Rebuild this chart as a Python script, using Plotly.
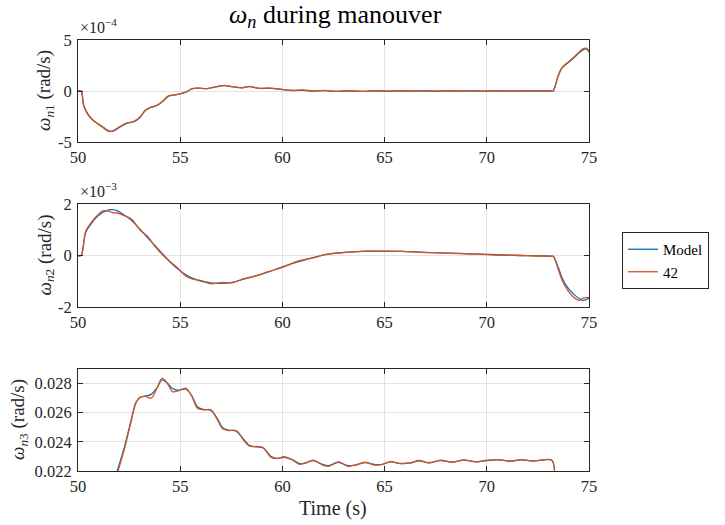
import plotly.graph_objects as go

# ---- omega_n1 (rad/s) ----
t1 = [50.0, 50.15, 50.28, 50.47, 50.75, 51.13, 51.5, 51.7, 52.08, 52.36, 52.74, 53.02, 53.3,
      53.58, 53.87, 54.15, 54.43, 54.72, 55.0, 55.28, 55.57, 55.85, 56.32, 56.79, 57.17, 57.55,
      58.02, 58.4, 58.87, 59.43, 60.0, 60.47, 61.04, 61.5, 62.08, 62.64, 63.2, 63.96, 64.6, 65.2,
      65.8, 66.4, 67.0, 67.6, 68.2, 68.8, 69.4, 70.0, 70.6, 71.2, 71.8, 72.4, 73.0, 73.18, 73.25,
      73.49, 73.68, 73.96, 74.25, 74.53, 74.72, 74.87, 75.0]
w1_model = [0, 0, -1.45e-4, -2.26e-4, -2.9e-4, -3.4e-4, -3.9e-4, -3.95e-4, -3.5e-4, -3.2e-4,
            -3.0e-4, -2.62e-4, -1.9e-4, -1.6e-4, -1.42e-4, -1.0e-4, -0.5e-4, -0.4e-4, -0.28e-4,
            -0.12e-4, 0.2e-4, 0.28e-4, 0.24e-4, 0.42e-4, 0.52e-4, 0.42e-4, 0.32e-4, 0.42e-4,
            0.25e-4, 0.26e-4, 0.14e-4, 0.05e-4, 0.07e-4, -0.02e-4, 0.03e-4, -0.04e-4, 0.0,
            -0.04e-4, 0.0, -0.03e-4, 0.0, -0.02e-4, 0.0, -0.02e-4, 0.0, -0.02e-4, 0.0, -0.01e-4,
            0.0, -0.01e-4, 0.0, 0.0, 0.0, 0.0, 0.0, 1.45e-4, 2.26e-4, 2.74e-4, 3.23e-4, 3.77e-4,
            4.05e-4, 4.12e-4, 3.8e-4]
w1_42 = [0, 0, -1.4e-4, -2.2e-4, -2.9e-4, -3.45e-4, -3.97e-4, -3.9e-4, -3.45e-4, -3.15e-4,
         -2.97e-4, -2.58e-4, -1.87e-4, -1.58e-4, -1.39e-4, -0.97e-4, -0.48e-4, -0.39e-4,
         -0.26e-4, -0.1e-4, 0.23e-4, 0.29e-4, 0.23e-4, 0.42e-4, 0.55e-4, 0.42e-4, 0.32e-4,
         0.45e-4, 0.26e-4, 0.29e-4, 0.16e-4, 0.06e-4, 0.1e-4, 0.0, 0.06e-4, -0.03e-4, 0.03e-4,
         -0.03e-4, 0.03e-4, 0.0, 0.03e-4, 0.0, 0.03e-4, 0.0, 0.03e-4, 0.0, 0.02e-4, 0.0,
         0.02e-4, 0.0, 0.01e-4, 0.01e-4, 0.0, 0.0, 0.0, 1.5e-4, 2.3e-4, 2.8e-4, 3.3e-4, 3.85e-4,
         4.15e-4, 4.2e-4, 3.9e-4]

# ---- omega_n2 (rad/s) ----
t2 = [50.0, 50.15, 50.38, 50.66, 50.94, 51.23, 51.5, 51.7, 51.9, 52.26, 52.64, 53.02, 53.4,
      53.77, 54.15, 54.53, 54.9, 55.28, 55.66, 56.04, 56.5, 56.98, 57.55, 58.11, 58.68, 59.25,
      60.0, 60.75, 61.5, 62.26, 63.02, 63.96, 64.9, 65.85, 66.8, 67.74, 68.68, 69.62, 70.57,
      71.5, 72.45, 73.0, 73.18, 73.25, 73.5, 73.68, 73.96, 74.25, 74.53, 74.72, 75.0]
w2_model = [0, 0, 0.9e-3, 1.25e-3, 1.51e-3, 1.68e-3, 1.77e-3, 1.78e-3, 1.74e-3, 1.57e-3,
            1.35e-3, 1.03e-3, 0.7e-3, 0.38e-3, 0.05e-3, -0.27e-3, -0.53e-3, -0.75e-3, -0.9e-3,
            -1.0e-3, -1.06e-3, -1.08e-3, -1.04e-3, -0.92e-3, -0.79e-3, -0.66e-3, -0.44e-3,
            -0.25e-3, -0.08e-3, 0.05e-3, 0.12e-3, 0.16e-3, 0.17e-3, 0.16e-3, 0.13e-3, 0.1e-3,
            0.08e-3, 0.05e-3, 0.03e-3, 0.0, -0.01e-3, -0.02e-3, -0.03e-3, -0.03e-3, -0.47e-3,
            -0.86e-3, -1.25e-3, -1.5e-3, -1.68e-3, -1.74e-3, -1.66e-3]
w2_42 = [0, 0, 0.95e-3, 1.3e-3, 1.55e-3, 1.74e-3, 1.72e-3, 1.66e-3, 1.65e-3, 1.55e-3, 1.4e-3,
         1.0e-3, 0.75e-3, 0.35e-3, 0.02e-3, -0.25e-3, -0.5e-3, -0.8e-3, -0.93e-3, -0.98e-3,
         -1.1e-3, -1.05e-3, -1.06e-3, -0.9e-3, -0.8e-3, -0.64e-3, -0.46e-3, -0.22e-3, -0.09e-3,
         0.06e-3, 0.11e-3, 0.17e-3, 0.17e-3, 0.16e-3, 0.12e-3, 0.1e-3, 0.07e-3, 0.05e-3,
         0.02e-3, 0.01e-3, -0.02e-3, -0.02e-3, -0.03e-3, -0.03e-3, -0.55e-3, -0.95e-3,
         -1.35e-3, -1.62e-3, -1.74e-3, -1.65e-3, -1.63e-3]

# ---- omega_n3 (rad/s) ----
t3 = [50.0, 50.2, 51.0, 51.92, 52.26, 52.55, 52.83, 53.02, 53.3, 53.58, 53.87, 54.11, 54.34,
      54.62, 54.9, 55.28, 55.57, 55.85, 56.13, 56.5, 56.79, 57.08, 57.36, 57.74, 58.11, 58.4,
      58.77, 59.06, 59.43, 59.72, 60.1, 60.47, 60.85, 61.13, 61.5, 61.98, 62.26, 62.74, 63.2,
      63.58, 64.06, 64.53, 64.9, 65.28, 65.75, 66.23, 66.7, 67.17, 67.74, 68.3, 68.87, 69.43,
      70.0, 70.57, 71.13, 71.7, 72.26, 72.83, 73.2, 73.25, 75.0]
w3_model = [0, 0, 0.0175, 0.0220, 0.02359, 0.0252, 0.02669, 0.02703, 0.02715, 0.02726,
            0.02772, 0.02825, 0.02807, 0.02766, 0.02754, 0.02761, 0.02715, 0.02639, 0.02623,
            0.02616, 0.02566, 0.02497, 0.02480, 0.02474, 0.02416, 0.02375, 0.02366, 0.02359,
            0.02301, 0.02287, 0.02294, 0.02278, 0.02251, 0.02255, 0.02271, 0.02244, 0.02237,
            0.0226, 0.02237, 0.02241, 0.02257, 0.02244, 0.02246, 0.02262, 0.02253, 0.02255,
            0.02269, 0.02257, 0.02271, 0.02262, 0.02274, 0.02264, 0.02271, 0.02276, 0.02269,
            0.02276, 0.02269, 0.02276, 0.02271, 0.0, 0.0]
w3_42 = [0, 0, 0.0170, 0.0218, 0.02345, 0.0251, 0.02665, 0.02705, 0.02712, 0.0270, 0.0277,
         0.02835, 0.0281, 0.02745, 0.0275, 0.02768, 0.02712, 0.0263, 0.0262, 0.0262, 0.0256,
         0.0249, 0.02478, 0.02478, 0.0241, 0.0237, 0.02368, 0.0236, 0.02295, 0.02285, 0.02298,
         0.02278, 0.02246, 0.02256, 0.02274, 0.0224, 0.02232, 0.02262, 0.02232, 0.02242,
         0.0226, 0.0224, 0.02246, 0.02265, 0.0225, 0.02256, 0.02272, 0.02255, 0.02274, 0.0226,
         0.02277, 0.02262, 0.02274, 0.02278, 0.02266, 0.02278, 0.02268, 0.02278, 0.02272,
         0.0, 0.0]

x_ticks = [50, 55, 60, 65, 70, 75]

BLUE = "#0072BD"
ORANGE = "#D95319"
AX = "#262626"
FONT = "Liberation Serif"

W, H = 725, 525
x_dom = [78 / W, 589 / W]
# (top px, bottom px) of each axes box
boxes = [(40, 142), (204, 307), (369, 471)]
doms = [[1 - b / H, 1 - t / H] for t, b in boxes]

fig = go.Figure()
series = [(t1, w1_model, w1_42), (t2, w2_model, w2_42), (t3, w3_model, w3_42)]
for i, (t, m, o) in enumerate(series):
    xa = "x" if i == 0 else f"x{i+1}"
    ya = "y" if i == 0 else f"y{i+1}"
    fig.add_trace(go.Scatter(x=t, y=m, mode="lines", name="Model", xaxis=xa, yaxis=ya,
                             line=dict(color=BLUE, width=1.3, shape="spline", smoothing=0.9),
                             showlegend=(i == 0)))
    fig.add_trace(go.Scatter(x=t, y=o, mode="lines", name="42", xaxis=xa, yaxis=ya,
                             line=dict(color=ORANGE, width=1.3, shape="spline", smoothing=0.9),
                             showlegend=(i == 0)))

y_specs = [
    dict(range=[-5e-4, 5e-4], tickvals=[-5e-4, 0, 5e-4], ticktext=["-5", "0", "5"]),
    dict(range=[-2e-3, 2e-3], tickvals=[-2e-3, 0, 2e-3], ticktext=["-2", "0", "2"]),
    dict(range=[0.022, 0.029], tickvals=[0.022, 0.024, 0.026, 0.028],
         ticktext=["0.022", "0.024", "0.026", "0.028"]),
]

common = dict(showline=True, linecolor=AX, linewidth=1, mirror="ticks", ticks="inside",
              ticklen=5, tickcolor=AX, showgrid=True, gridcolor="#e3e3e3", gridwidth=1,
              zeroline=False, automargin=False,
              tickfont=dict(family=FONT, size=16.5, color=AX))

layout = dict(width=W, height=H, margin=dict(l=0, r=0, t=0, b=0, autoexpand=False),
              paper_bgcolor="white", plot_bgcolor="white", font=dict(family=FONT, color=AX))
for i in range(3):
    sx = "xaxis" if i == 0 else f"xaxis{i+1}"
    sy = "yaxis" if i == 0 else f"yaxis{i+1}"
    ya = "y" if i == 0 else f"y{i+1}"
    xa = "x" if i == 0 else f"x{i+1}"
    layout[sx] = dict(domain=x_dom, anchor=ya, range=[50, 75], tickvals=x_ticks, **common)
    layout[sy] = dict(domain=doms[i], anchor=xa, ticklabelstandoff=2, **y_specs[i], **common)

layout["legend"] = dict(x=622 / W, y=1 - 232 / H, xanchor="left", yanchor="top",
                        bordercolor=AX, borderwidth=1, bgcolor="white",
                        font=dict(family=FONT, size=15, color="black"),
                        tracegroupgap=0, itemwidth=30)

annotations = [
    dict(text="<i>ω<sub>n</sub></i> during manouver", x=335 / W, y=1 - 16 / H,
         xref="paper", yref="paper", showarrow=False, font=dict(family=FONT, size=26, color="black"),
         xanchor="center", yanchor="middle"),
    dict(text="×10<sup>−4</sup>", x=78 / W, y=1 - 38 / H, xref="paper", yref="paper",
         showarrow=False, xanchor="left", yanchor="bottom",
         font=dict(family=FONT, size=16, color=AX)),
    dict(text="×10<sup>−3</sup>", x=78 / W, y=1 - 202 / H, xref="paper", yref="paper",
         showarrow=False, xanchor="left", yanchor="bottom",
         font=dict(family=FONT, size=16, color=AX)),
    dict(text="Time (s)", x=333 / W, y=1 - 508 / H, xref="paper", yref="paper",
         showarrow=False, xanchor="center", yanchor="middle",
         font=dict(family=FONT, size=20, color=AX)),
]
ylabels = ["<i>ω</i><sub><i>n</i>1</sub> (rad/s)", "<i>ω</i><sub><i>n</i>2</sub> (rad/s)",
           "<i>ω</i><sub><i>n</i>3</sub> (rad/s)"]
ylabel_x = [45, 45, 19]
for i, (t, b) in enumerate(boxes):
    annotations.append(dict(text=ylabels[i], x=ylabel_x[i] / W, y=1 - (t + b) / 2 / H,
                            xref="paper", yref="paper", showarrow=False, textangle=-90,
                            xanchor="center", yanchor="middle",
                            font=dict(family=FONT, size=19, color=AX)))
layout["annotations"] = annotations

fig.update_layout(**layout)
fig.write_html("out.html")
